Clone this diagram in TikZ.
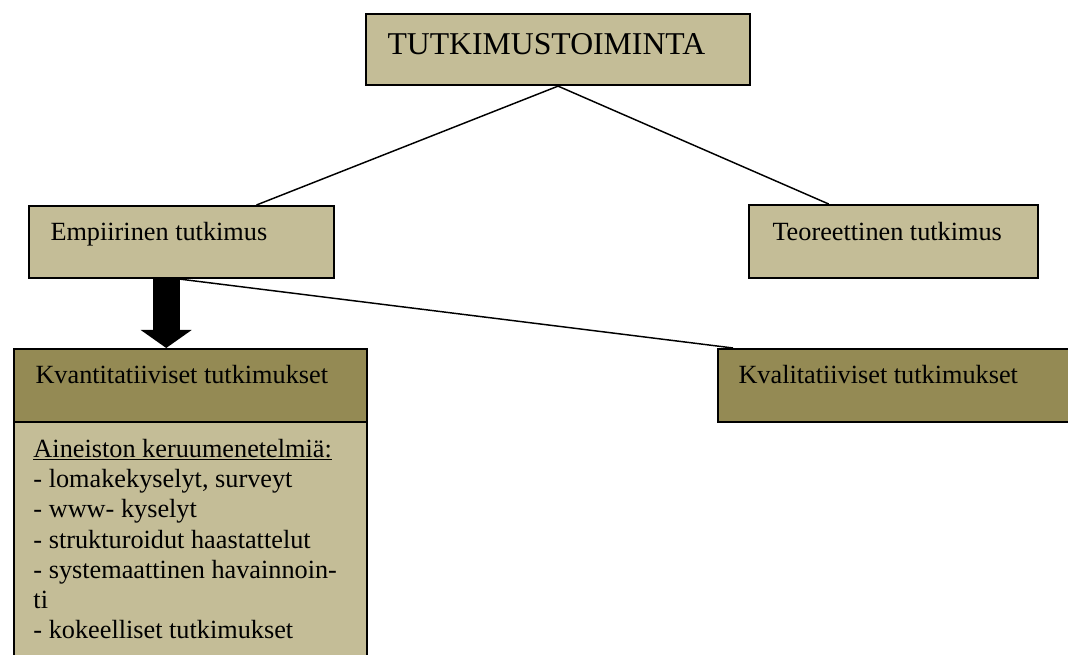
\documentclass[tikz,border=0pt]{standalone}
\usepackage{fontspec}
\setmainfont{Liberation Serif}
\usetikzlibrary{calc,arrows.meta}
\tikzset{every picture/.style={line width=0.75pt}}
\definecolor{vaalea}{RGB}{196,189,151}
\definecolor{tumma}{RGB}{148,138,84}
\tikzset{
  laatikko/.style={draw=black, line width=1.6pt, fill=vaalea, anchor=north west, inner sep=0pt},
  tummalaatikko/.style={laatikko, fill=tumma},
  teksti/.style={anchor=base west, inner sep=0pt, font=\fontsize{19.7}{22.7}\selectfont},
  viiva/.style={line width=1.1pt},
  isonuoli/.style={line width=20.25pt, -{Triangle[width=38.25pt,length=13.5pt,line width=0pt]}}
}

\begin{document}
\begin{tikzpicture}[x=0.75pt,y=0.75pt,yscale=-1,xscale=1]
\clip (0,0) rectangle (1068,655);

%Shape: Rectangle [toiminta]
\node [laatikko, minimum width=288pt, minimum height=53.25pt] (toiminta) at (365,13) {};
%Shape: Rectangle [empiir]
\node [laatikko, minimum width=228.75pt, minimum height=54pt] (empiir) at (28,205) {};
%Shape: Rectangle [teor]
\node [laatikko, minimum width=216.75pt, minimum height=54.75pt] (teor) at (748,204) {};
%Shape: Rectangle [kvant]
\node [tummalaatikko, minimum width=264.75pt, minimum height=54.75pt] (kvant) at (13,348) {};
%Shape: Rectangle [sisalto]
\node [laatikko, minimum width=264.75pt, minimum height=195pt] (sisalto) at (13,421) {};
%Shape: Rectangle [kvali]
\node [tummalaatikko, minimum width=285pt, minimum height=54.75pt] (kvali) at (717,348) {};

%Straight Lines
\draw [viiva] (toiminta.south) -- ($(empiir.north west)!0.744!(empiir.north east)$);
%Straight Lines
\draw [viiva] (toiminta.south) -- ($(teor.north west)!0.277!(teor.north east)$);
%Straight Lines
\draw [viiva] ($(empiir.south west)!0.495!(empiir.south east)$) -- ($(kvali.north west)!0.042!(kvali.north east)$);
%Block Arrow
\coordinate (n1) at ($(empiir.south west)!0.45!(empiir.south east)$);
\draw [isonuoli] (n1) -- (n1 |- kvant.north);

% Text Node
\node [teksti, font=\fontsize{23.8}{27}\selectfont] (t1) at (387,55) {TUTKIMUSTOIMINTA};
% Text Node
\node [teksti] (t2) at (50,241) {Empiirinen tutkimus};
% Text Node
\node [teksti] (t3) at (772,241) {Teoreettinen tutkimus};
% Text Node
\node [teksti] (t4) at (35,384) {Kvantitatiiviset tutkimukset};
% Text Node
\node [teksti] (t5) at (738,384) {Kvalitatiiviset tutkimukset};
% Text Node (base = last line)
\node [teksti, align=left] (t6) at (33,639) {\underline{Aineiston keruumenetelmiä:}\\
- lomakekyselyt, surveyt\\
- www- kyselyt\\
- strukturoidut haastattelut\\
- systemaattinen havainnoin-\\
ti\\
- kokeelliset tutkimukset};

\end{tikzpicture}
\end{document}
